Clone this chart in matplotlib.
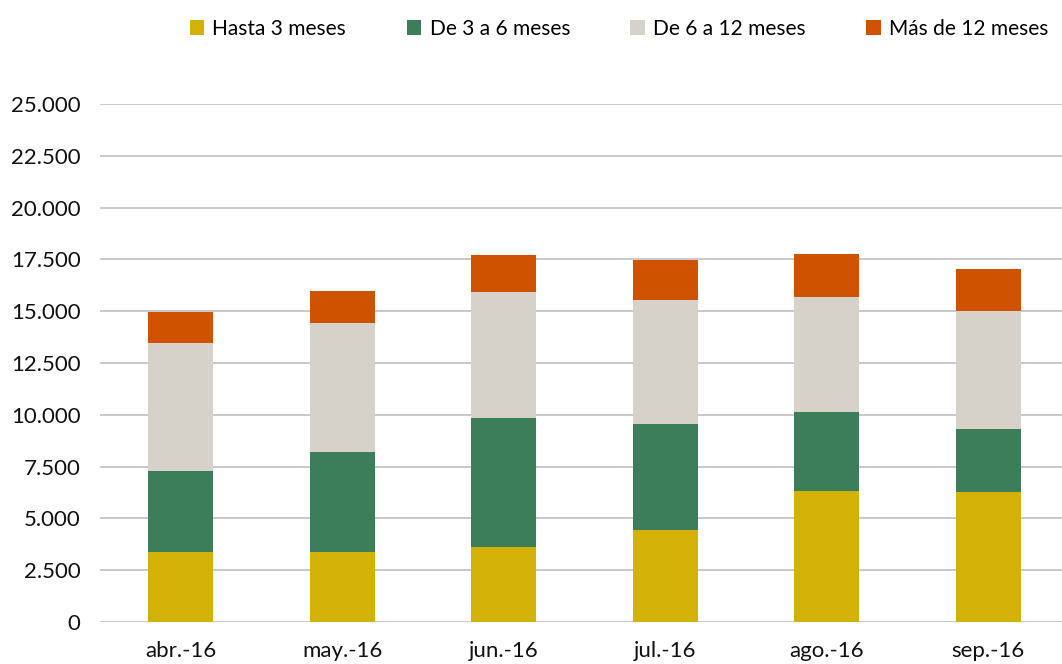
import numpy as np
import matplotlib.pyplot as plt
from matplotlib.ticker import FuncFormatter

# datos (numero de casos por antiguedad)
meses = ['abr.-16', 'may.-16', 'jun.-16', 'jul.-16', 'ago.-16', 'sep.-16']
hasta_3 = [3400, 3400, 3620, 4440, 6320, 6270]
de_3_a_6 = [3900, 4800, 6230, 5120, 3820, 3040]
de_6_a_12 = [6150, 6230, 6080, 5980, 5550, 5700]
mas_de_12 = [1500, 1540, 1780, 1930, 2070, 2030]

series = [
    ('Hasta 3 meses', hasta_3, '#d3b107'),
    ('De 3 a 6 meses', de_3_a_6, '#3c7d5a'),
    ('De 6 a 12 meses', de_6_a_12, '#d6d2ca'),
    ('Más de 12 meses', mas_de_12, '#cf5200'),
]

plt.rcParams['font.family'] = ['Lato', 'DejaVu Sans']

fig = plt.figure(figsize=(10.62, 6.64), dpi=100)
ax = fig.add_axes([100 / 1062, 42 / 664, 969 / 1062, 518 / 664])

x = np.arange(len(meses))
bottom = np.zeros(len(meses))
handles = []
for nombre, vals, color in series:
    b = ax.bar(x, vals, width=0.405, bottom=bottom, color=color, label=nombre, zorder=3)
    handles.append(b)
    bottom += np.array(vals)

ax.set_xlim(-0.5, len(meses) - 0.5)
ax.set_ylim(0, 25000)
ax.set_yticks(np.arange(0, 25001, 2500))
ax.yaxis.set_major_formatter(FuncFormatter(lambda v, p: f'{int(v):,}'.replace(',', '.')))
ax.set_xticks(x)
ax.set_xticklabels(meses)
ax.grid(axis='y', color='#c0c0c0', linewidth=1.2, zorder=0)
for s in ax.spines.values():
    s.set_visible(False)
ax.tick_params(axis='both', length=0, labelsize=16, colors='#111111')
ax.tick_params(axis='y', pad=14)
ax.tick_params(axis='x', pad=14)

fig.legend(handles=handles, loc='upper center', bbox_to_anchor=(0.583, 1.0), ncol=4,
           frameon=False, fontsize=15, handlelength=0.7, handleheight=0.7,
           handletextpad=0.4, columnspacing=2.9)

fig.savefig('out.png', dpi=100)
